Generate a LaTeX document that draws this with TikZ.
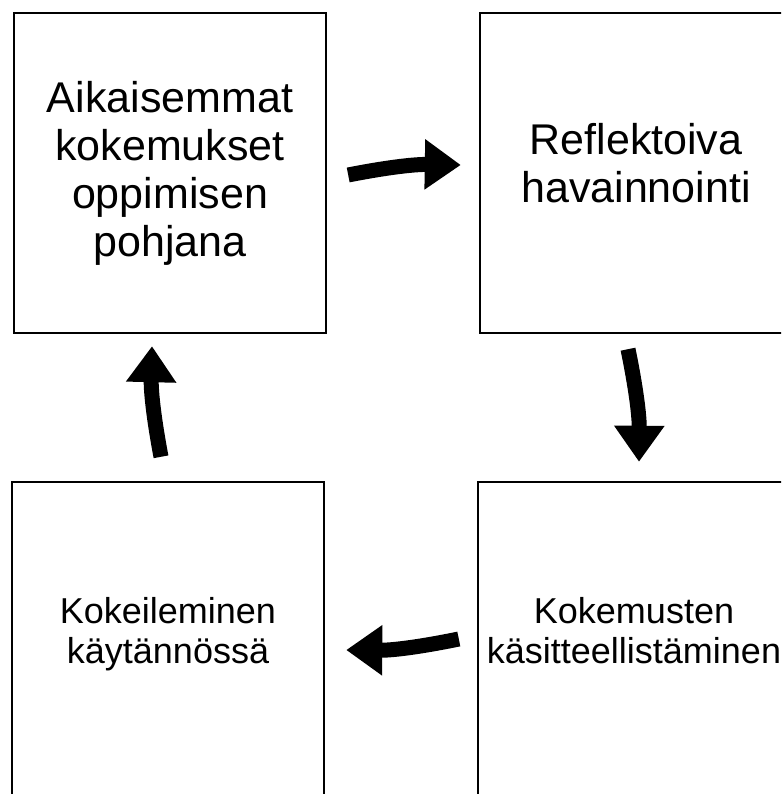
\documentclass[tikz,border=0pt]{standalone}
\usepackage{fontspec}
\setmainfont{Liberation Sans}
\usetikzlibrary{arrows.meta,calc}

\tikzset{
  box/.style={draw, line width=2.4pt, minimum width=312pt, minimum height=320pt, inner sep=0pt, align=center},
  bigtext/.style={font=\fontsize{43}{48}\selectfont},
  smalltext/.style={font=\fontsize{36}{40}\selectfont, text depth=24pt},
  flow/.style={line width=15pt, -{Triangle[width=48pt,length=36pt]}}
}

\begin{document}
\begin{tikzpicture}[x=1pt,y=1pt]
  \useasboundingbox (0,0) rectangle (781,794);
  \clip (0,0) rectangle (781,794);
  % the four stages
  \node[box,bigtext] (aik) at (170,621) {Aikaisemmat\\kokemukset\\oppimisen\\pohjana};
  \node[box,bigtext,text depth=20pt] (ref) at (636,621) {Reflektoiva\\havainnointi};
  \node[box,smalltext] (kas) at (634,152) {Kokemusten\\käsitteellistäminen};
  \node[box,smalltext] (kok) at (168,152) {Kokeileminen\\käytännössä};
  % cycle arrows
  \draw[flow] ($(aik.east)+(21,-2)$) to[bend left=6] ($(ref.west)+(-18,8)$);
  \draw[flow] ($(ref.south)+(-8,-15)$) to[bend left=6] ($(kas.north)+(5,19)$);
  \draw[flow] ($(kas.west)+(-18,3)$) to[bend left=6] ($(kok.east)+(21,-8)$);
  \draw[flow] ($(kok.north)+(-7,24)$) to[bend left=6] ($(aik.south)+(-18,-12)$);
\end{tikzpicture}
\end{document}
